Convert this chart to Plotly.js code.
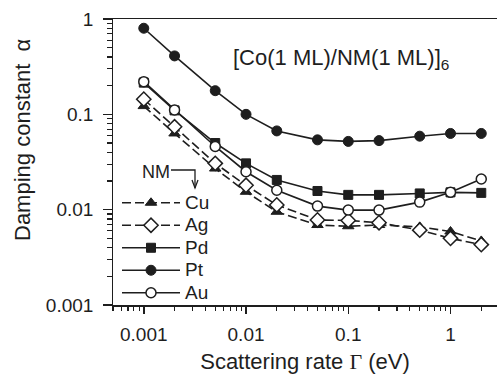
<!DOCTYPE html>
<html>
<head>
<meta charset="utf-8">
<script src="https://cdn.plot.ly/plotly-3.0.1.min.js"></script>
<style>html,body{margin:0;padding:0;background:#fff;}</style>
</head>
<body>
<div id="chart" style="width:497px;height:374px;"></div>
<script>
// Scattering rate Gamma (eV)
const gamma = [0.001, 0.002, 0.005, 0.01, 0.02, 0.05, 0.1, 0.2, 0.5, 1, 2];
// Damping constant alpha for each NM
const alphaCu = [0.122, 0.063, 0.027, 0.0154, 0.0095, 0.0069, 0.0067, 0.0069, 0.0066, 0.0059, 0.0047];
const alphaAg = [0.144, 0.074, 0.0306, 0.018, 0.0112, 0.0078, 0.0077, 0.0073, 0.0061, 0.0050, 0.0043];
const alphaPd = [0.215, 0.110, 0.050, 0.0306, 0.0205, 0.0157, 0.0143, 0.0143, 0.0148, 0.0152, 0.0150];
const alphaPt = [0.80, 0.41, 0.177, 0.100, 0.067, 0.054, 0.052, 0.053, 0.059, 0.063, 0.063];
const alphaAu = [0.22, 0.111, 0.046, 0.025, 0.016, 0.0109, 0.0099, 0.0099, 0.0120, 0.0152, 0.021];
const seriesNames = ["Cu", "Ag", "Pd", "Pt", "Au"];
const xTickVals = [0.001, 0.01, 0.1, 1];
const xTickText = ["0.001", "0.01", "0.1", "1"];
const yTickVals = [0.001, 0.01, 0.1, 1];
const yTickText = ["0.001", "0.01", "0.1", "1"];

const INK = "#1e1e1e";
const FONT = "Liberation Sans, Arial, Helvetica, sans-serif";

function minorTicks(lo, hi) {
  const out = [];
  for (let e = lo; e <= hi; e++) {
    for (let d = 2; d <= 9; d++) out.push(d * Math.pow(10, e));
  }
  return out;
}

const styles = {
  Cu: {dash: "9px,4px", marker: {symbol: "triangle-up", size: 10, color: INK, line: {color: INK, width: 1}}},
  Ag: {dash: "9px,4px", marker: {symbol: "diamond", size: 11, color: "#ffffff", line: {color: INK, width: 1.5}}},
  Pd: {dash: "solid", marker: {symbol: "square", size: 9, color: INK, line: {color: INK, width: 1}}},
  Pt: {dash: "solid", marker: {symbol: "circle", size: 10, color: INK, line: {color: INK, width: 1}}},
  Au: {dash: "solid", marker: {symbol: "circle", size: 10, color: "#ffffff", line: {color: INK, width: 1.5}}}
};
const values = {Cu: alphaCu, Ag: alphaAg, Pd: alphaPd, Pt: alphaPt, Au: alphaAu};

const traces = seriesNames.map(n => ({
  type: "scatter",
  mode: "lines+markers",
  name: '<span style="font-size:19px">' + n + '</span>',
  x: gamma,
  y: values[n],
  line: {color: INK, width: 1.6, dash: styles[n].dash},
  marker: styles[n].marker,
  cliponaxis: false
}));

// pixel helpers for decorations (plot area: x 113..497, y 19..305)
const px = v => (v - 113) / 384;
const py = v => (305 - v) / 286;

const layout = {
  width: 497, height: 374,
  margin: {l: 113, r: 0, t: 19, b: 69},
  paper_bgcolor: "#ffffff", plot_bgcolor: "#ffffff",
  font: {family: FONT, color: INK, size: 19},
  showlegend: true,
  legend: {
    x: px(117), y: py(186.5), xanchor: "left", yanchor: "top",
    bgcolor: "rgba(0,0,0,0)", borderwidth: 0,
    font: {size: 15, family: FONT, color: INK},
    itemwidth: 58
  },
  xaxis: {
    type: "log",
    range: [Math.log10(0.0005), Math.log10(2.85)],
    showline: true, linecolor: INK, linewidth: 1.5, mirror: true,
    showgrid: false, zeroline: false,
    tickmode: "array", tickvals: xTickVals, ticktext: xTickText,
    ticks: "outside", ticklen: 7, tickwidth: 1.5, tickcolor: INK,
    ticklabelstandoff: 5,
    tickfont: {size: 19, family: FONT, color: INK},
    minor: {tickmode: "array", tickvals: minorTicks(-4, 0), ticks: "outside", ticklen: 4, tickwidth: 1.2, tickcolor: INK, showgrid: false},
    title: {text: "Scattering rate <span style=\"font-family:'Liberation Serif', 'Times New Roman', serif\">Γ</span> (eV)", font: {size: 22, family: FONT, color: INK}, standoff: 9}
  },
  yaxis: {
    type: "log",
    range: [-3, 0],
    showline: true, linecolor: INK, linewidth: 1.5,
    showgrid: false, zeroline: false,
    tickmode: "array", tickvals: yTickVals, ticktext: yTickText.map(t => t + "\u00a0"),
    ticks: "outside", ticklen: 9, tickwidth: 1.5, tickcolor: INK,
    tickfont: {size: 19, family: FONT, color: INK},
    minor: {tickmode: "array", tickvals: minorTicks(-3, -1), ticks: "outside", ticklen: 5, tickwidth: 1.2, tickcolor: INK, showgrid: false}
  },
  annotations: [
    {xref: "paper", yref: "paper", x: px(341), y: py(59), xanchor: "center", yanchor: "middle",
     text: "[Co(1 ML)/NM(1 ML)]<sub>6</sub>", showarrow: false, font: {size: 22, family: FONT, color: INK}},
    {xref: "paper", yref: "paper", x: px(156), y: py(172), xanchor: "center", yanchor: "middle",
     text: "NM", showarrow: false, font: {size: 18, family: FONT, color: INK}},
    {xref: "paper", yref: "paper", x: (22 - 113) / 384, y: py(140), xanchor: "center", yanchor: "middle",
     textangle: -90, text: "Damping constant  α", showarrow: false, font: {size: 22, family: FONT, color: INK}}
  ],
  shapes: [
    {type: "path", xref: "paper", yref: "paper",
     path: `M ${px(171)} ${py(170)} L ${px(195)} ${py(170)} L ${px(195)} ${py(188)}`,
     line: {color: INK, width: 1.3}},
    {type: "path", xref: "paper", yref: "paper",
     path: `M ${px(192)} ${py(180)} L ${px(195)} ${py(188)} L ${px(198)} ${py(180)}`,
     line: {color: INK, width: 1.3}}
  ]
};

Plotly.newPlot("chart", traces, layout, {displayModeBar: false, staticPlot: true});
</script>
</body>
</html>
